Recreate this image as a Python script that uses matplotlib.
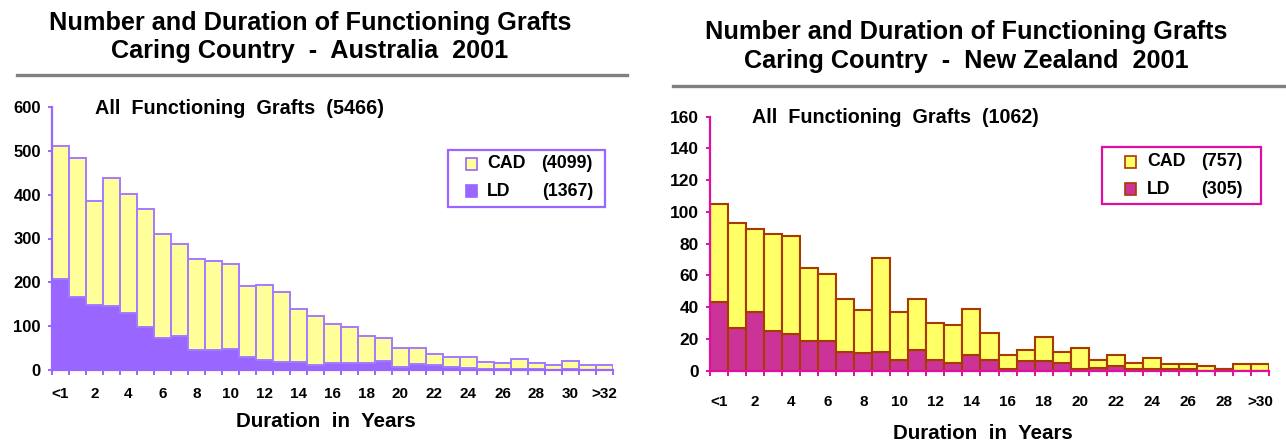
import matplotlib
matplotlib.use('Agg')
import matplotlib.pyplot as plt
from matplotlib.patches import Rectangle
from matplotlib.lines import Line2D

plt.rcParams['font.family'] = ['Liberation Sans', 'DejaVu Sans']
plt.rcParams['font.weight'] = 'bold'

W, H = 1286, 441

# ---------------- data ----------------
au_categories = ['<1'] + [str(i) for i in range(1, 32)] + ['>32']
au_xlabels = ['<1', '2', '4', '6', '8', '10', '12', '14', '16', '18', '20',
              '22', '24', '26', '28', '30', '>32']
au_ld = [207, 167, 148, 145, 129, 98, 72, 78, 46, 46, 47, 29, 22, 19, 19, 12,
         17, 17, 15, 21, 6, 14, 11, 6, 4, 3, 2, 3, 2, 1, 2, 1, 1]
au_cad = [303, 316, 238, 293, 273, 270, 238, 210, 207, 202, 194, 162, 172, 158,
          120, 111, 87, 81, 63, 52, 45, 37, 26, 24, 26, 16, 13, 23, 15, 10, 18,
          10, 10]
au_yticks = [0, 100, 200, 300, 400, 500, 600]

nz_categories = ['<1'] + [str(i) for i in range(1, 30)] + ['>30']
nz_xlabels = ['<1', '2', '4', '6', '8', '10', '12', '14', '16', '18', '20',
              '22', '24', '26', '28', '>30']
nz_ld = [43, 27, 37, 25, 23, 19, 19, 12, 11, 12, 7, 13, 7, 5, 10, 7, 1, 6, 6,
         5, 1, 2, 3, 1, 1, 1, 1, 0, 1, 0, 0]
nz_cad = [62, 66, 52, 61, 62, 46, 42, 33, 27, 59, 30, 32, 23, 24, 29, 17, 9, 7,
          15, 7, 13, 5, 7, 4, 7, 3, 3, 3, 0, 4, 4]
nz_yticks = [0, 20, 40, 60, 80, 100, 120, 140, 160]


def fx(x):
    return x / W


def fy(y):
    return 1 - y / H


fig = plt.figure(figsize=(W / 100, H / 100), dpi=100)
fig.patch.set_facecolor('white')


def make_axes(x0, x1, ytop, ybot):
    return fig.add_axes([fx(x0), fy(ybot), fx(x1) - fx(x0), fy(ytop) - fy(ybot)])


def draw(ax, cats, xlabels, ld, cad, yticks, ld_color, cad_color, edge,
         ld_edge, spine_color, lw, ysize, xpad, labelpad):
    n = len(cats)
    x = list(range(n))
    ax.bar(x, ld, width=1.0, color=ld_color, edgecolor=ld_edge, linewidth=lw,
           zorder=2)
    ax.bar(x, cad, bottom=ld, width=1.0, color=cad_color, edgecolor=edge,
           linewidth=lw, zorder=2)
    ax.set_xlim(-0.5, n - 0.5)
    ax.set_ylim(0, yticks[-1])
    for s in ['top', 'right']:
        ax.spines[s].set_visible(False)
    for s in ['left', 'bottom']:
        ax.spines[s].set_color(spine_color)
        ax.spines[s].set_linewidth(1.6)
        ax.spines[s].set_zorder(3)
    ax.set_yticks(yticks)
    ax.set_yticklabels([str(v) for v in yticks], fontsize=ysize,
                       fontweight='bold')
    ax.tick_params(axis='y', direction='out', length=3, width=1.4,
                   color=spine_color, pad=5)
    ax.set_xticks([i - 0.5 for i in range(n + 1)])
    ax.set_xticklabels([])
    ax.tick_params(axis='x', which='major', direction='out', length=3.5,
                   width=1.4, color=spine_color)
    pos = [cats.index(l) for l in xlabels]
    ax.set_xticks(pos, minor=True)
    ax.set_xticklabels(xlabels, minor=True, fontsize=11, fontweight='bold')
    ax.tick_params(axis='x', which='minor', length=0, pad=xpad)
    ax.set_xlabel('Duration  in  Years', fontsize=14.8, fontweight='bold',
                  labelpad=labelpad)
    ax.xaxis.label.set_x(0.488)
    ax.patch.set_alpha(0)


# ---------------- left: Australia ----------------
axL = make_axes(52, 613, 107, 370)
draw(axL, au_categories, au_xlabels, au_ld, au_cad, au_yticks,
     '#9966FF', '#FFFF99', '#A27BFF', '#9966FF', '#9966FF', 1.4,
     12, 12, 8.5)

# ---------------- right: New Zealand ----------------
axR = make_axes(710, 1269, 116.7, 370.7)
draw(axR, nz_categories, nz_xlabels, nz_ld, nz_cad, nz_yticks,
     '#CC3399', '#FFFF66', '#A83A00', '#A83A00', '#E0109F', 1.5,
     12.5, 17.5, 11)

# titles
title_kw = dict(fontsize=18.2, fontweight='bold', ha='center', va='center')
fig.text(fx(310), fy(23), 'Number and Duration of Functioning Grafts', **title_kw)
fig.text(fx(310), fy(51), 'Caring Country  -  Australia  2001', **title_kw)
fig.text(fx(966), fy(32), 'Number and Duration of Functioning Grafts', **title_kw)
fig.text(fx(966), fy(61), 'Caring Country  -  New Zealand  2001', **title_kw)

fig.add_artist(Line2D([fx(17), fx(627)], [fy(75), fy(75)], color='#808080',
                      linewidth=2.4, transform=fig.transFigure))
fig.add_artist(Line2D([fx(673), fx(1284)], [fy(86), fy(86)], color='#808080',
                      linewidth=2.4, transform=fig.transFigure))

# annotations
fig.text(fx(95), fy(108), 'All  Functioning  Grafts  (5466)', fontsize=14.3,
         fontweight='bold', ha='left', va='center')
fig.text(fx(752), fy(117), 'All  Functioning  Grafts  (1062)', fontsize=14.2,
         fontweight='bold', ha='left', va='center')


# legends (manual, to reproduce the two-column layout)
def legend(box, sq_x, rows, text_x, num_x, frame_color, edge_color):
    x0, y0, x1, y1 = box
    fig.add_artist(Rectangle((fx(x0), fy(y1)), fx(x1) - fx(x0), fy(y0) - fy(y1),
                             fill=True, facecolor='white', edgecolor=frame_color,
                             linewidth=1.6, transform=fig.transFigure, zorder=5))
    for yc, col, name, num in rows:
        fig.add_artist(Rectangle((fx(sq_x), fy(yc + 6)), fx(11), fy(0) - fy(12),
                                 facecolor=col, edgecolor=edge_color,
                                 linewidth=1.2, transform=fig.transFigure,
                                 zorder=6))
        fig.text(fx(text_x), fy(yc), name, fontsize=12.8, fontweight='bold',
                 ha='left', va='center', zorder=7)
        fig.text(fx(num_x), fy(yc), num, fontsize=12.8, fontweight='bold',
                 ha='right', va='center', zorder=7)


legend((448, 150, 605, 207), 466,
       [(164, '#FFFF99', 'CAD', '(4099)'), (191, '#9966FF', 'LD', '(1367)')],
       487, 593, '#9966FF', '#9966FF')
legend((1102, 147, 1261, 204), 1125,
       [(162, '#FFFF66', 'CAD', '(757)'), (189, '#CC3399', 'LD', '(305)')],
       1147, 1243, '#E0109F', '#A83A00')

fig.savefig('out.png', dpi=100, facecolor='white')
